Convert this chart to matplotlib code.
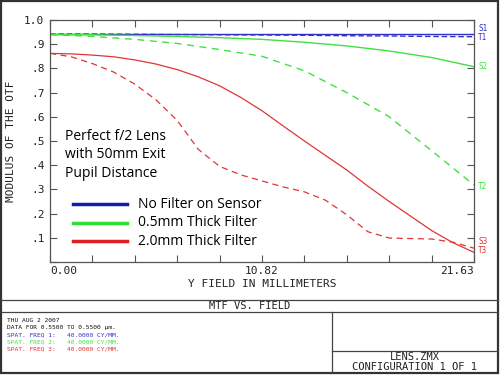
import numpy as np
import matplotlib.pyplot as plt
from matplotlib.lines import Line2D
from matplotlib.patches import Rectangle

# field positions (mm)
x11 = np.linspace(0, 21.63, 11)
x21 = np.linspace(0, 21.63, 21)

blue_s = [0.942, 0.942, 0.942, 0.942, 0.942, 0.942, 0.942, 0.942, 0.942, 0.942, 0.942]
blue_t = [0.942, 0.942, 0.941, 0.940, 0.939, 0.938, 0.937, 0.935, 0.934, 0.932, 0.931]
green_s = [0.940, 0.939, 0.936, 0.932, 0.927, 0.920, 0.908, 0.893, 0.872, 0.845, 0.807]
green_t = [0.940, 0.932, 0.920, 0.903, 0.878, 0.850, 0.790, 0.700, 0.600, 0.460, 0.318]
red_s = [0.862, 0.860, 0.855, 0.848, 0.835, 0.818, 0.795, 0.765, 0.728, 0.680, 0.625,
         0.562, 0.500, 0.440, 0.380, 0.313, 0.250, 0.190, 0.130, 0.080, 0.040]
red_t = [0.862, 0.848, 0.820, 0.785, 0.735, 0.670, 0.585, 0.465, 0.395, 0.360, 0.335,
         0.310, 0.290, 0.255, 0.195, 0.125, 0.099, 0.097, 0.095, 0.082, 0.057]

blue = '#3030c8'
green = '#40e040'
red = '#e03535'

mono = 'DejaVu Sans Mono'

fig = plt.figure(figsize=(5, 3.75), dpi=100)
W, H = 500, 375


def fx(px):
    return px / W


def fy(py):
    return 1 - py / H


ax = fig.add_axes([fx(50), fy(262), fx(474) - fx(50), fy(20) - fy(262)])
ax.plot(x11, blue_s, color=blue, lw=1.0)
ax.plot(x11, blue_t, color=blue, lw=1.0, dashes=(4, 2))
ax.plot(x11, green_s, color=green, lw=1.0)
ax.plot(x11, green_t, color=green, lw=1.0, dashes=(5, 4))
ax.plot(x21, red_s, color=red, lw=0.9)
ax.plot(x21, red_t, color=red, lw=0.9, dashes=(5, 3.5))

ax.set_xlim(0, 21.63)
ax.set_ylim(0, 1.0)
ax.set_xticks(np.linspace(0, 21.63, 11))
ax.set_xticklabels(['0.00', '', '', '', '', '10.82', '', '', '', '', '21.63'])
for i, lab in enumerate(ax.get_xticklabels()):
    if i == 0:
        lab.set_ha('left')
    elif i == 10:
        lab.set_ha('right')
ax.set_yticks(np.arange(0, 1.01, 0.1))
ax.set_yticklabels(['', '.1', '.2', '.3', '.4', '.5', '.6', '.7', '.8', '.9', '1.0'])
ax.tick_params(direction='in', length=5, width=0.8, color='#555555',
               top=True, right=True, labelsize=8, labelcolor='#222222', pad=4)
ax.tick_params(axis='x', pad=3)
for lab in ax.get_xticklabels() + ax.get_yticklabels():
    lab.set_family(mono)
for sp in ax.spines.values():
    sp.set_color('#555555')
    sp.set_linewidth(0.9)
ax.set_xlabel('Y FIELD IN MILLIMETERS', family=mono, fontsize=8, color='#222222', labelpad=2)
ax.set_ylabel('MODULUS OF THE OTF', family=mono, fontsize=8, color='#222222', labelpad=6)

# curve end labels
end_labels = [('S1', 0.963, blue), ('T1', 0.927, blue), ('S2', 0.806, green),
              ('T2', 0.314, green), ('S3', 0.083, red), ('T3', 0.048, red)]
for txt, yv, c in end_labels:
    ax.text(1.01, yv, txt, transform=ax.get_yaxis_transform(), color=c,
            family=mono, fontsize=5.5, va='center', ha='left')

# annotation text
note = ['Perfect f/2 Lens', 'with 50mm Exit', 'Pupil Distance']
for i, s in enumerate(note):
    fig.text(fx(65), fy(137 + i * 18), s, fontsize=10, family='Open Sans',
             va='center', ha='left', color='black')

legend_names = ['No Filter on Sensor', '0.5mm Thick Filter', '2.0mm Thick Filter']
legend_colors = ['#1a1aa8', '#30e030', '#e02020']
for i, (s, c) in enumerate(zip(legend_names, legend_colors)):
    yy = fy(204 + i * 18.5)
    fig.add_artist(Line2D([fx(73), fx(127)], [yy, yy], color=c, lw=2.5))
    fig.text(fx(138), yy, s, fontsize=10, family='Open Sans', va='center', ha='left')

# frame and title block
fig.add_artist(Rectangle((fx(1), fy(373)), fx(497), fy(1) - fy(373), fill=False,
                         ec='#333333', lw=1.6))
for py in (300, 312):
    fig.add_artist(Line2D([fx(1), fx(498)], [fy(py), fy(py)], color='#444444', lw=0.9))
fig.add_artist(Line2D([fx(332), fx(332)], [fy(312), fy(373)], color='#444444', lw=0.9))
fig.add_artist(Line2D([fx(332), fx(498)], [fy(351), fy(351)], color='#444444', lw=0.9))

fig.text(fx(250), fy(306), 'MTF VS. FIELD', family=mono, fontsize=7.5,
         ha='center', va='center', color='#222222')
fig.text(fx(415), fy(357.5), 'LENS.ZMX', family=mono, fontsize=7.5,
         ha='center', va='center', color='#222222')
fig.text(fx(415), fy(367.5), 'CONFIGURATION 1 OF 1', family=mono, fontsize=7.5,
         ha='center', va='center', color='#222222')

info = [('THU AUG 2 2007', '#111111'),
        ('DATA FOR 0.5500 TO 0.5500 \u00b5m.', '#111111'),
        ('SPAT. FREQ 1:   40.0000 CY/MM.', blue),
        ('SPAT. FREQ 2:   40.0000 CY/MM.', green),
        ('SPAT. FREQ 3:   40.0000 CY/MM.', red)]
for i, (s, c) in enumerate(info):
    fig.text(fx(7), fy(321 + i * 7), s, family=mono, fontsize=4.5, color=c,
             ha='left', va='center')

fig.savefig('out.png', dpi=100)
